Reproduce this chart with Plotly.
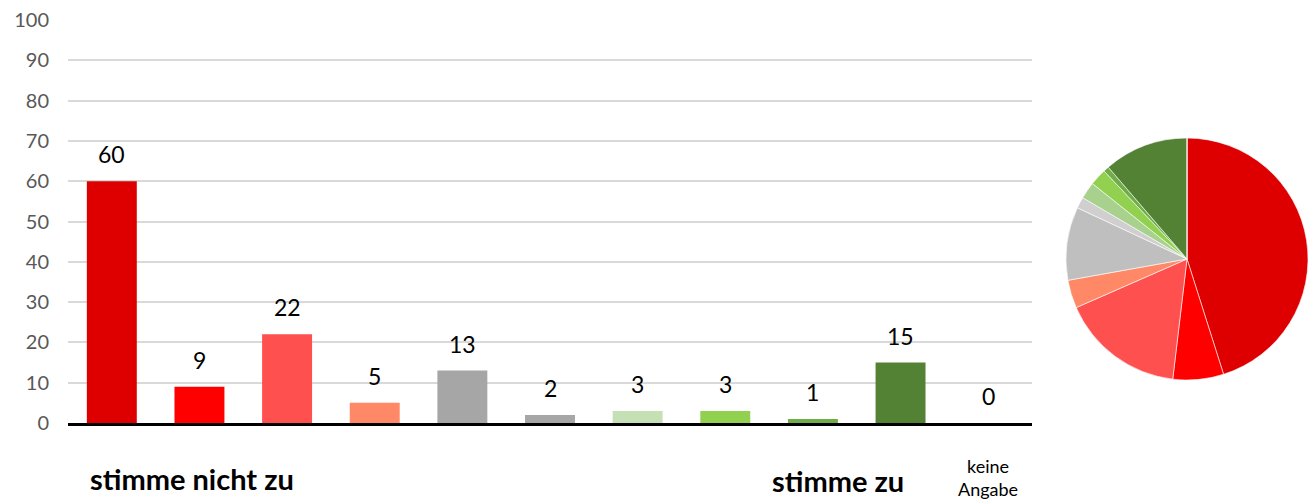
import plotly.graph_objects as go

# Survey answers on an 11-step scale (last step = no answer)
categories = ["1", "2", "3", "4", "5", "6", "7", "8", "9", "10", "keine Angabe"]
counts = [60, 9, 22, 5, 13, 2, 3, 3, 1, 15, 0]
bar_colors = ["#DE0000", "#FF0000", "#FF5050", "#FF8866", "#A6A6A6", "#A6A6A6",
              "#C5E0B4", "#92D050", "#70AD47", "#548235", "#548235"]
pie_colors = ["#DE0000", "#FF0000", "#FF5050", "#FF8866", "#BFBFBF", "#D0CECE",
              "#A9D18E", "#92D050", "#70AD47", "#548235", "#FFFFFF"]
y_ticks = [0, 10, 20, 30, 40, 50, 60, 70, 80, 90, 100]

W, H = 1312, 499
FONT = "Lato, 'Open Sans', sans-serif"

fig = go.Figure()

fig.add_trace(go.Bar(
    x=categories, y=counts,
    marker=dict(color=bar_colors, line=dict(width=0)),
    showlegend=False, hoverinfo="x+y",
))

# value labels above each bar (category axis positions are serial indices)
for i, v in enumerate(counts):
    fig.add_annotation(x=i, y=v, text=str(v), showarrow=False,
                       xref="x", yref="y", yanchor="bottom", yshift=11,
                       font=dict(family=FONT, size=23, color="#000000"))

fig.add_trace(go.Pie(
    labels=categories, values=counts, sort=False, direction="clockwise",
    rotation=0, marker=dict(colors=pie_colors, line=dict(color="#FFFFFF", width=0.6)),
    textinfo="none", showlegend=False,
    domain=dict(x=[1066 / W, 1308 / W], y=[(H - 380) / H, (H - 138) / H]),
))

fig.update_layout(
    width=W, height=H,
    margin=dict(l=0, r=0, t=0, b=0, autoexpand=False),
    paper_bgcolor="white", plot_bgcolor="white",
    bargap=0.43,
    xaxis=dict(type="category", domain=[68 / W, 1032 / W], showticklabels=False,
               ticks="", showgrid=False, showline=True, linecolor="#000000",
               linewidth=2.5, zeroline=False, automargin=False),
    yaxis=dict(domain=[(H - 423) / H, (H - 20) / H], range=[0, 100],
               tickvals=y_ticks, showgrid=True, gridcolor="#D9D9D9", gridwidth=1.5,
               zeroline=False, showline=False, ticks="", ticklabelstandoff=18,
               automargin=False,
               tickfont=dict(family=FONT, size=20, color="#595959")),
)

# scale end captions below the axis
fig.add_annotation(x=88 / W, y=(H - 478) / H, xref="paper", yref="paper",
                   text="<b>stimme nicht zu</b>", showarrow=False,
                   xanchor="left", yanchor="middle",
                   font=dict(family=FONT, size=29, color="#000000"))
fig.add_annotation(x=838 / W, y=(H - 480) / H, xref="paper", yref="paper",
                   text="<b>stimme zu</b>", showarrow=False,
                   xanchor="center", yanchor="middle",
                   font=dict(family=FONT, size=29, color="#000000"))
fig.add_annotation(x=988 / W, y=(H - 477) / H, xref="paper", yref="paper",
                   text="keine<br>Angabe", showarrow=False,
                   xanchor="center", yanchor="middle",
                   font=dict(family=FONT, size=18, color="#000000"))

fig.write_html("out.html")
